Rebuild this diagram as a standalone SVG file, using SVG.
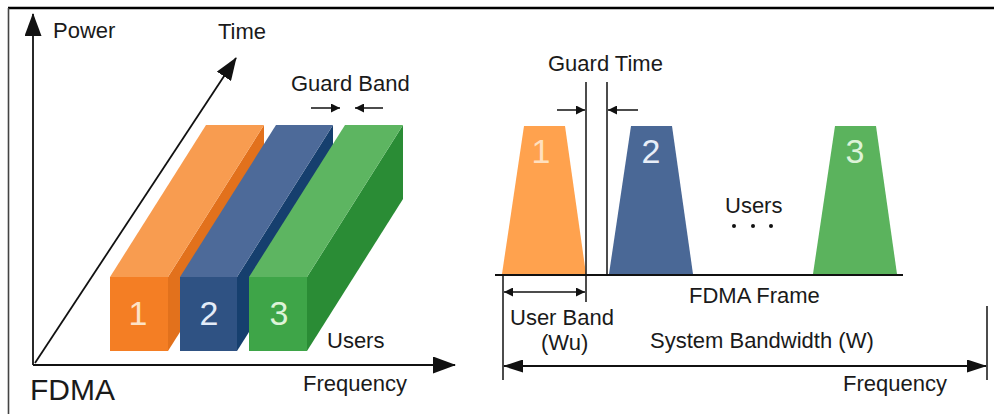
<svg xmlns="http://www.w3.org/2000/svg" width="994" height="414" viewBox="0 0 994 414">
<style>
text{font-family:"Liberation Sans",Arial,sans-serif;font-size:22px;fill:#1a1a1a}
.num{font-size:34px;text-anchor:middle}
.ax{stroke:#111;stroke-width:1.8;fill:none}
.thin{stroke:#111;stroke-width:1.5;fill:none}
.dot{fill:#111}
</style>
<defs>
<marker id="big" viewBox="0 0 23 17" refX="22" refY="8.5" markerWidth="23" markerHeight="17" markerUnits="userSpaceOnUse" orient="auto-start-reverse"><path d="M0,0 L23,8.5 L0,17 z" fill="#111"/></marker>
<marker id="mid" viewBox="0 0 20 13" refX="19" refY="6.5" markerWidth="20" markerHeight="13" markerUnits="userSpaceOnUse" orient="auto-start-reverse"><path d="M0,0 L20,6.5 L0,13 z" fill="#111"/></marker>
<marker id="sm" viewBox="0 0 9 9" refX="9" refY="4.5" markerWidth="9" markerHeight="9" markerUnits="userSpaceOnUse" orient="auto-start-reverse"><path d="M0,0 L9,4.5 L0,9 z" fill="#111"/></marker>
</defs>
<rect width="994" height="414" fill="#fff"/>
<line x1="8" y1="8" x2="994" y2="8" stroke="#000" stroke-width="2.5"/>
<line x1="8.5" y1="8" x2="8.5" y2="414" stroke="#444" stroke-width="1.6"/>

<g id="box1">
<polygon points="168,277 264,125 264,199 168,351" fill="#E2711C"/>
<polygon points="110,277 206,125 264,125 168,277" fill="#F89C50"/>
<rect x="110" y="277" width="58" height="74" fill="#F47E24"/>
<text class="num" x="138" y="325" style="fill:#FDE3C8">1</text>
</g>
<g id="box2">
<polygon points="237,277 333,125 333,199 237,351" fill="#163F6E"/>
<polygon points="180,277 276,125 333,125 237,277" fill="#4D6A99"/>
<rect x="180" y="277" width="57" height="74" fill="#2F5283"/>
<text class="num" x="209" y="325" style="fill:#E4ECF8">2</text>
</g>
<g id="box3">
<polygon points="307,277 403,125 403,199 307,351" fill="#2A8C35"/>
<polygon points="249,277 345,125 403,125 307,277" fill="#5DB561"/>
<rect x="249" y="277" width="58" height="74" fill="#3EA548"/>
<text class="num" x="279" y="325" style="fill:#DDF3D8">3</text>
</g>

<g id="band1">
<polygon points="502,274 524,126 565,126 586,274" fill="#FFA24E"/>
<text class="num" x="541" y="163" style="fill:#FFE0BE">1</text>
</g>
<g id="band2">
<polygon points="609,274 631,126 672,126 693,274" fill="#4A6896"/>
<text class="num" x="651" y="163" style="fill:#E8EEF8">2</text>
</g>
<g id="band3">
<polygon points="813,274 835,126 876,126 897,274" fill="#5BB35D"/>
<text class="num" x="855" y="163" style="fill:#DDF3D8">3</text>
</g>

<g id="connectors">
<line class="ax" x1="33" y1="365" x2="33" y2="14" marker-end="url(#big)"/>
<line class="ax" x1="33" y1="365" x2="455" y2="365" marker-end="url(#big)"/>
<line class="ax" x1="35" y1="363" x2="236" y2="58" marker-end="url(#big)"/>
<line class="thin" x1="311" y1="108" x2="340" y2="108" marker-end="url(#sm)"/>
<line class="thin" x1="383" y1="108" x2="355" y2="108" marker-end="url(#sm)"/>
<line class="ax" x1="495" y1="275" x2="903" y2="275"/>
<line class="thin" x1="586" y1="82" x2="586" y2="302"/>
<line class="thin" x1="607" y1="82" x2="607" y2="276"/>
<line class="thin" x1="557" y1="110" x2="585" y2="110" marker-end="url(#sm)"/>
<line class="thin" x1="638" y1="110" x2="608" y2="110" marker-end="url(#sm)"/>
<line class="thin" x1="503" y1="275" x2="503" y2="380"/>
<line class="thin" x1="987" y1="306" x2="987" y2="380"/>
<line class="thin" x1="504" y1="292" x2="585" y2="292" marker-start="url(#sm)" marker-end="url(#sm)"/>
<line class="ax" x1="504" y1="366" x2="986" y2="366" marker-start="url(#mid)" marker-end="url(#mid)"/>
</g>

<g id="dots">
<circle class="dot" cx="734" cy="226" r="2"/>
<circle class="dot" cx="753" cy="226" r="2"/>
<circle class="dot" cx="771" cy="226" r="2"/>
</g>

<g id="labels">
<text x="53" y="38">Power</text>
<text x="218" y="39">Time</text>
<text x="291" y="91">Guard Band</text>
<text x="327" y="348">Users</text>
<text x="303" y="391">Frequency</text>
<text x="30" y="400" style="font-size:30px">FDMA</text>
<text x="548" y="71">Guard Time</text>
<text x="725" y="213">Users</text>
<text x="689" y="303">FDMA Frame</text>
<text x="510" y="325">User Band</text>
<text x="541" y="350">(Wu)</text>
<text x="650" y="348">System Bandwidth (W)</text>
<text x="843" y="391">Frequency</text>
</g>
</svg>
